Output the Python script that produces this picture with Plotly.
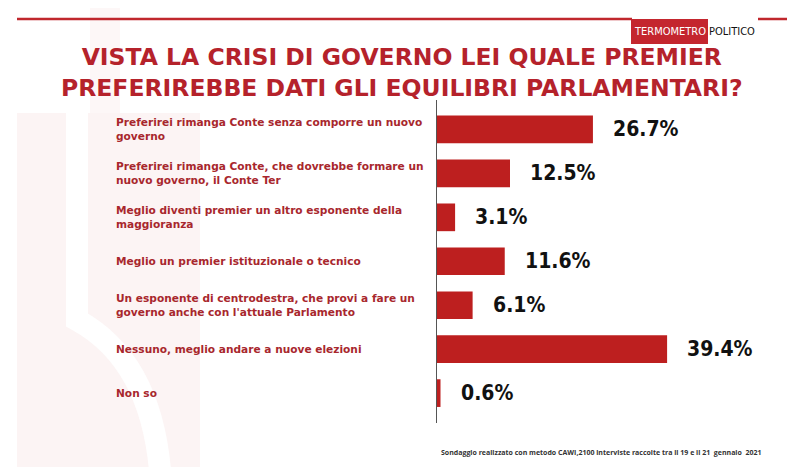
import plotly.graph_objects as go

categories = [
    "Preferirei rimanga Conte senza comporre un nuovo<br>governo",
    "Preferirei rimanga Conte, che dovrebbe formare un<br>nuovo governo, il Conte Ter",
    "Meglio diventi premier un altro esponente della<br>maggioranza",
    "Meglio un premier istituzionale o tecnico",
    "Un esponente di centrodestra, che provi a fare un<br>governo anche con l'attuale Parlamento",
    "Nessuno, meglio andare a nuove elezioni",
    "Non so",
]
values = [26.7, 12.5, 3.1, 11.6, 6.1, 39.4, 0.6]
value_labels = ["26.7%", "12.5%", "3.1%", "11.6%", "6.1%", "39.4%", "0.6%"]

title_text = "VISTA LA CRISI DI GOVERNO LEI QUALE PREMIER<br>PREFERIREBBE DATI GLI EQUILIBRI PARLAMENTARI?"
footnote = "Sondaggio realizzato con metodo CAWI,2100 interviste raccolte tra il 19 e il 21  gennaio  2021"

W, H = 800, 476
ML, MR, MT, MB = 437, 71, 100, 53
PW = W - ML - MR
PH = H - MT - MB


def px(x):
    return (x - ML) / PW


def py(y):
    return (H - MB - y) / PH


cat_ids = list(range(len(categories)))

BAR = "#bd1f1f"
TXT_RED = "#a8272d"
TITLE_RED = "#b5222b"

fig = go.Figure(
    go.Bar(
        x=values,
        y=cat_ids,
        orientation="h",
        marker=dict(color=BAR, line=dict(width=0)),
        width=0.63,
        hoverinfo="skip",
    )
)

annotations = []
for i, (c, v, lab) in enumerate(zip(categories, values, value_labels)):
    annotations.append(dict(
        x=px(114), xref="paper", y=i, yref="y",
        text=c, showarrow=False, xanchor="left", yanchor="middle", align="left",
        font=dict(family="DejaVu Sans", size=10.6, color=TXT_RED, weight="bold"),
    ))
    annotations.append(dict(
        x=v, xref="x", y=i, yref="y", xshift=18,
        text=lab, showarrow=False, xanchor="left", yanchor="middle",
        font=dict(family="DejaVu Sans Condensed", size=21, color="#111111", weight="bold"),
    ))

annotations += [
    dict(x=px(402), y=py(73), xref="paper", yref="paper", text=title_text, showarrow=False,
         xanchor="center", yanchor="middle", align="center",
         font=dict(family="DejaVu Sans", size=23.5, color=TITLE_RED, weight="bold")),
    dict(x=px(763), y=py(452), xref="paper", yref="paper", text=footnote, showarrow=False,
         xanchor="right", yanchor="middle",
         font=dict(family="Open Sans", size=7, color="#333333", weight="bold")),
    dict(x=px(669.5), y=py(31.5), xref="paper", yref="paper", text="TERMOMETRO", showarrow=False,
         xanchor="center", yanchor="middle",
         font=dict(family="DejaVu Sans Condensed", size=11, color="white")),
    dict(x=px(732), y=py(31.5), xref="paper", yref="paper", text="POLITICO", showarrow=False,
         xanchor="center", yanchor="middle",
         font=dict(family="DejaVu Sans Condensed", size=11, color="#111111")),
]

shapes = [
    # faint watermark
    dict(type="rect", xref="paper", yref="paper", x0=px(17), x1=px(200), y0=py(113), y1=py(467),
         fillcolor="#fcf4f4", line=dict(width=0), layer="below"),
    dict(type="rect", xref="paper", yref="paper", x0=px(90), x1=px(120), y0=py(8), y1=py(113),
         fillcolor="#fdf7f7", line=dict(width=0), layer="below"),
    dict(type="path", xref="paper", yref="paper",
         path=f"M {px(77)} {py(113)} L {px(77)} {py(320)} Q {px(150)} {py(360)} {px(160)} {py(470)}",
         line=dict(color="white", width=22), layer="below"),
    # top red rules
    dict(type="line", xref="paper", yref="paper", x0=px(17), x1=px(632), y0=py(19), y1=py(19),
         line=dict(color="#c0272d", width=2.5)),
    dict(type="line", xref="paper", yref="paper", x0=px(758), x1=px(787), y0=py(19), y1=py(19),
         line=dict(color="#c0272d", width=2.5)),
    # logo box
    dict(type="rect", xref="paper", yref="paper", x0=px(631), x1=px(708), y0=py(19), y1=py(44),
         fillcolor="#c4262e", line=dict(width=0)),
]

fig.update_layout(
    width=W, height=H,
    margin=dict(l=ML, r=MR, t=MT, b=MB, pad=0),
    paper_bgcolor="white", plot_bgcolor="rgba(0,0,0,0)",
    showlegend=False,
    xaxis=dict(range=[0, 50], visible=False, fixedrange=True),
    yaxis=dict(range=[6.68, -0.67], showticklabels=False, showgrid=False, zeroline=False,
               showline=True, linecolor="#555555", linewidth=1, ticks="", fixedrange=True),
    annotations=annotations,
    shapes=shapes,
)

fig.write_html(
    "out.html",
    config={"displayModeBar": False},
    post_script="document.body.style.margin='0';document.body.style.padding='0';",
)
